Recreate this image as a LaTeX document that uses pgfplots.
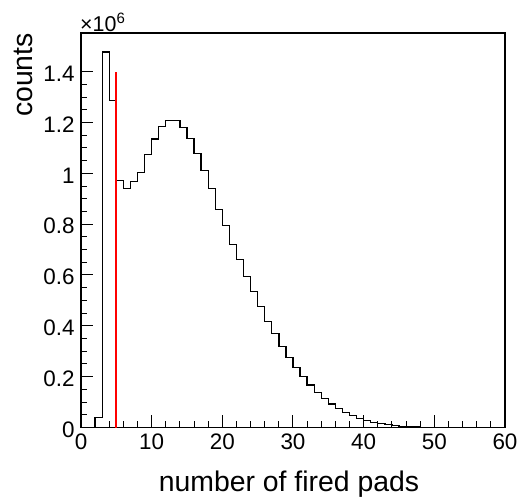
\documentclass[border=0pt]{standalone}
\usepackage{fontspec}
\setmainfont{Liberation Sans}
\usepackage{pgfplots}
\pgfplotsset{compat=1.18}
\begin{document}
\begin{tikzpicture}
\useasboundingbox (-81bp,-76.5bp) rectangle (447bp,427.5bp);
\begin{axis}[name=ax, at={(0,0)}, anchor=south west,
  scale only axis, width=424bp, height=394.5bp,
  xmin=0, xmax=60, ymin=0, ymax=1.552,
  axis line style={line width=1.5bp},
  tick align=inside, xtick pos=bottom, ytick pos=left,
  xtick={0,10,20,30,40,50,60}, xticklabels={0,10,20,30,40,50,60},
  minor x tick num=4,
  ytick={0,0.2,0.4,0.6,0.8,1,1.2,1.4},
  yticklabels={0,0.2,0.4,0.6,0.8,1,1.2,1.4},
  minor y tick num=3,
  major tick length=12bp, minor tick length=6bp,
  tick style={line width=1bp, black},
  ticklabel style={font=\fontsize{22.5}{27}\selectfont},
  yticklabel style={xshift=-3bp, yshift=-2bp},
  xticklabel style={yshift=-3bp},
  clip=false,
]
\addplot[const plot, black, line width=1.3bp] coordinates {
(0,0) (1,0) (2,0.039) (3,1.477) (4,1.287) (5,0.973) (6,0.939) (7,0.968)
(8,1.003) (9,1.074) (10,1.135) (11,1.184) (12,1.209) (13,1.208) (14,1.180)
(15,1.137) (16,1.079) (17,1.011) (18,0.939) (19,0.858) (20,0.796) (21,0.721)
(22,0.661) (23,0.593) (24,0.536) (25,0.476) (26,0.418) (27,0.369) (28,0.318)
(29,0.275) (30,0.236) (31,0.200) (32,0.167) (33,0.137) (34,0.113) (35,0.0925)
(36,0.074) (37,0.058) (38,0.046) (39,0.036) (40,0.027) (41,0.020) (42,0.015)
(43,0.011) (44,0.007) (45,0.005) (46,0.003) (47,0.002) (48,0.001) (49,0.0005)
(50,0) (60,0)
};
\addplot[red, line width=2bp] coordinates {(5,0) (5,1.4)};
\end{axis}
\node[anchor=base west, inner sep=0pt, font=\fontsize{21.5}{25}\selectfont] at ([xshift=-1bp,yshift=1.5bp]ax.north west) {×10\textsuperscript{6}};
\node[rotate=90, anchor=base east, inner sep=0pt, font=\fontsize{28.5}{34}\selectfont] at ([xshift=-48bp]ax.north west) {counts};
\node[anchor=base, inner sep=0pt, font=\fontsize{28.5}{34}\selectfont] at ([xshift=-4bp,yshift=-64bp]ax.south) {number of fired pads};
\end{tikzpicture}
\end{document}
